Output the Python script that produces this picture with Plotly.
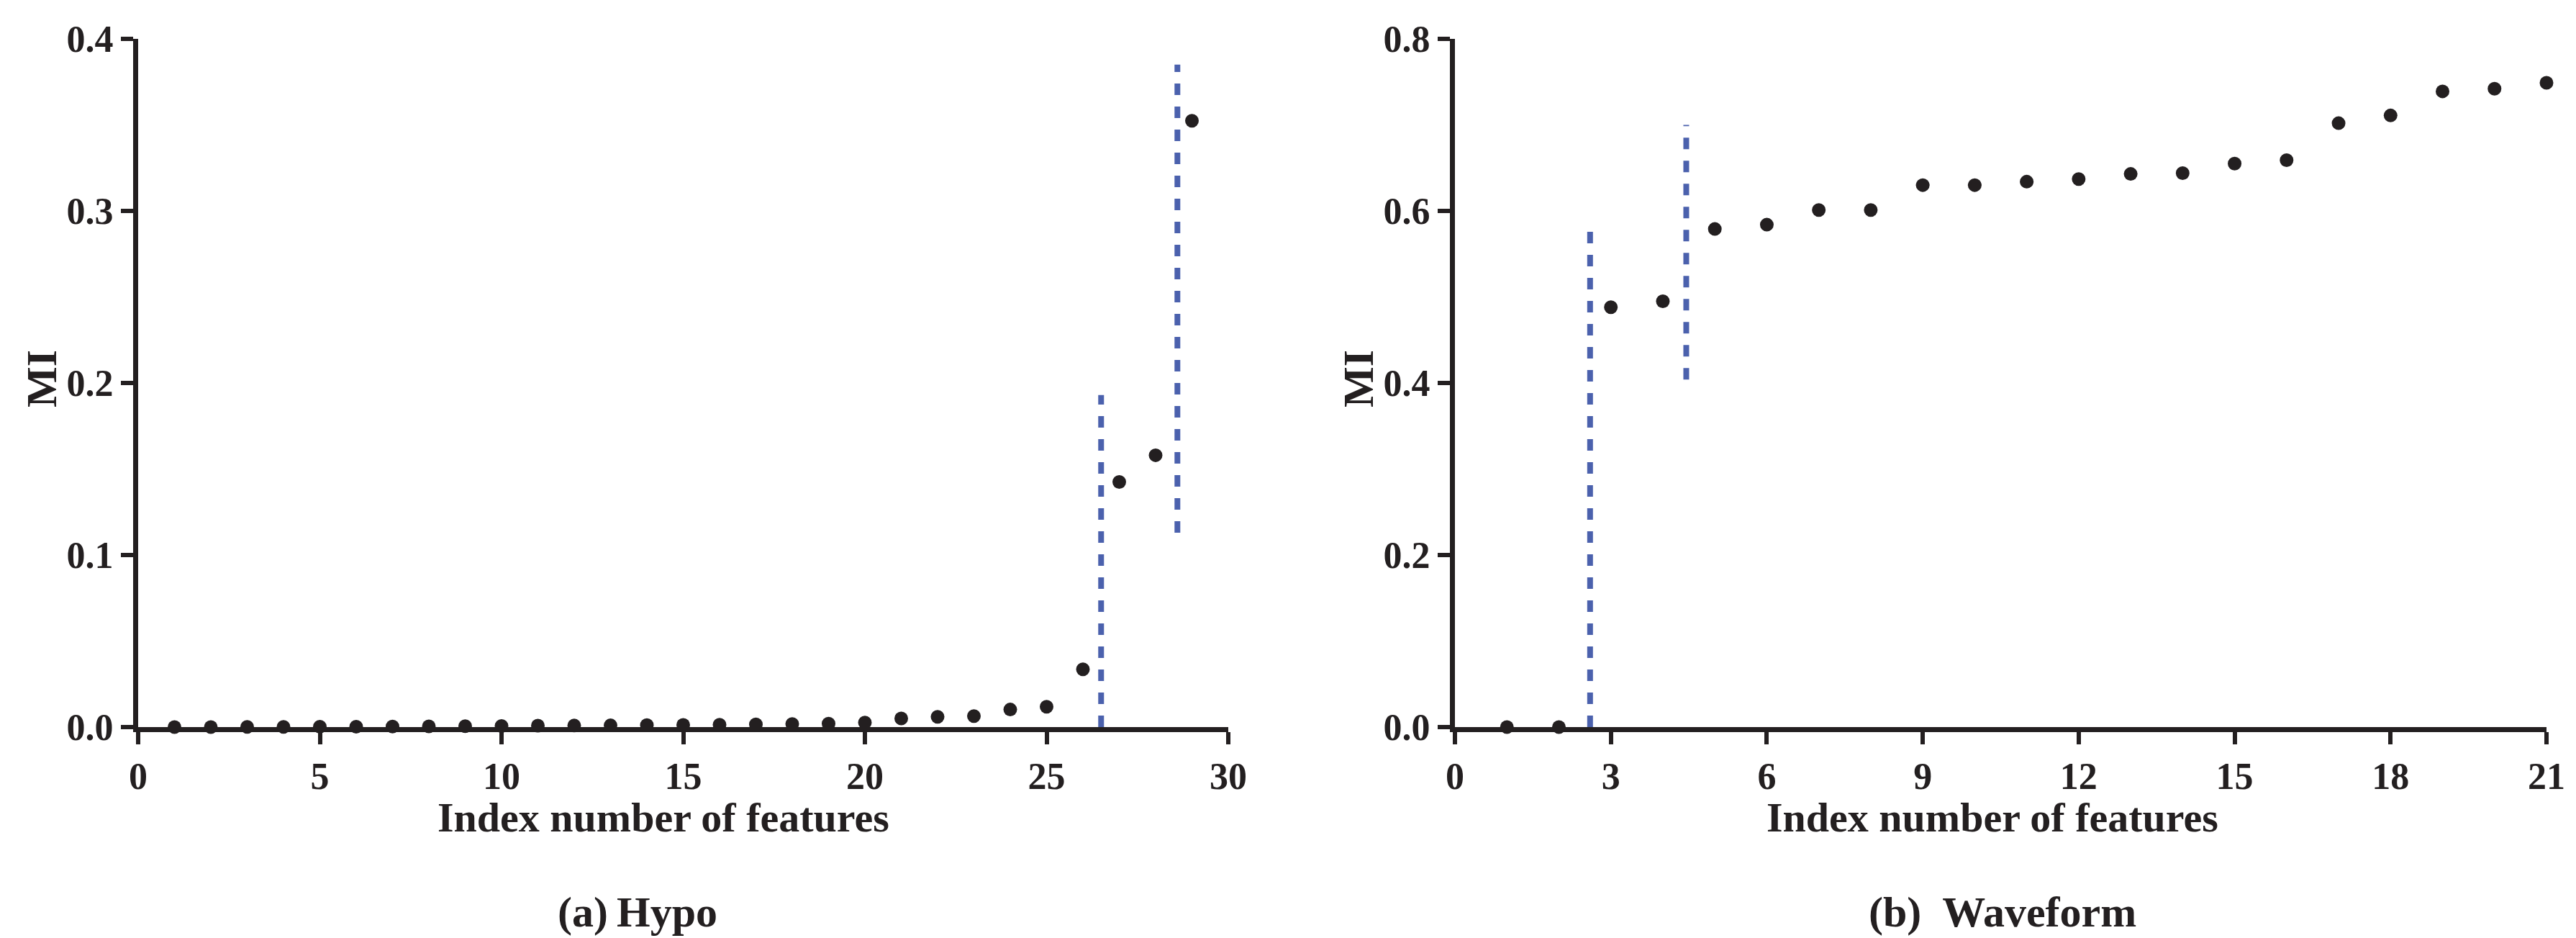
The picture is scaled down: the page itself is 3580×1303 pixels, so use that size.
import plotly.graph_objects as go

# ---------------- data ----------------
hypo_idx = list(range(1, 30))
hypo_mi = [0.0, 0.0, 0.0001, 0.0001, 0.0002, 0.0002, 0.0003, 0.0004, 0.0005, 0.0006,
           0.0008, 0.0009, 0.0010, 0.0012, 0.0013, 0.0014, 0.0016, 0.0018, 0.0020, 0.0026,
           0.0050, 0.0060, 0.0064, 0.0102, 0.0118, 0.0336, 0.1425, 0.1580, 0.3524]

wave_idx = list(range(1, 22))
wave_mi = [0.0, 0.0, 0.488, 0.495, 0.579, 0.584, 0.601, 0.601, 0.630, 0.630,
           0.634, 0.637, 0.643, 0.644, 0.655, 0.659, 0.702, 0.711, 0.739, 0.742, 0.749]

# dashed separator lines: x position, y start, y end
hypo_cuts_x = [26.5, 28.6]
hypo_cuts_y0 = [0.0, 0.113]
hypo_cuts_y1 = [0.193, 0.385]

wave_cuts_x = [2.6, 4.45]
wave_cuts_y0 = [0.0, 0.404]
wave_cuts_y1 = [0.577, 0.700]

hypo_xticks = [0, 5, 10, 15, 20, 25, 30]
hypo_yticks = [0.0, 0.1, 0.2, 0.3, 0.4]
wave_xticks = [0, 3, 6, 9, 12, 15, 18, 21]
wave_yticks = [0.0, 0.2, 0.4, 0.6, 0.8]

ylabel = "MI"
xlabel = "Index number of features"
caption_a = "(a)\u2009Hypo"
caption_b = "(b)\u00a0 Waveform"

# ---------------- style ----------------
INK = "#231f20"
BLUE = "#4b61ad"
FONT = "Liberation Serif"
W, H = 3580, 1303

fig = go.Figure()

# markers
fig.add_trace(go.Scatter(x=hypo_idx, y=hypo_mi, mode="markers",
                         marker=dict(size=19, color=INK, line=dict(width=0)),
                         cliponaxis=False, xaxis="x", yaxis="y", showlegend=False))
fig.add_trace(go.Scatter(x=wave_idx, y=wave_mi, mode="markers",
                         marker=dict(size=19, color=INK, line=dict(width=0)),
                         cliponaxis=False, xaxis="x2", yaxis="y2", showlegend=False))

# dashed lines
for xv, y0, y1 in zip(hypo_cuts_x, hypo_cuts_y0, hypo_cuts_y1):
    fig.add_trace(go.Scatter(x=[xv, xv], y=[y0, y1], mode="lines",
                             line=dict(color=BLUE, width=8, dash="16px,16px"),
                             cliponaxis=False, xaxis="x", yaxis="y", showlegend=False))
for xv, y0, y1 in zip(wave_cuts_x, wave_cuts_y0, wave_cuts_y1):
    fig.add_trace(go.Scatter(x=[xv, xv], y=[y0, y1], mode="lines",
                             line=dict(color=BLUE, width=8, dash="16px,16px"),
                             cliponaxis=False, xaxis="x2", yaxis="y2", showlegend=False))

tickfont = dict(family=FONT, size=52, color=INK, weight="bold")
common = dict(showline=True, linecolor=INK, linewidth=7, ticks="outside",
              ticklen=17, tickwidth=6, tickcolor=INK, showgrid=False,
              zeroline=False, tickfont=tickfont, fixedrange=True,
              automargin=False)

ybot = 1 - 1002 / H
ytop = 1 - 46 / H

fig.update_layout(
    template="none",
    width=W, height=H,
    margin=dict(l=0, r=0, t=0, b=0, pad=0),
    paper_bgcolor="white", plot_bgcolor="white",
    xaxis=dict(domain=[184 / W, 1699 / W], range=[0, 30], tickvals=hypo_xticks,
               anchor="y", **common),
    yaxis=dict(domain=[ybot, ytop], range=[0, 0.4], tickvals=hypo_yticks,
               tickformat=".1f", anchor="x", **common),
    xaxis2=dict(domain=[2014 / W, 3531 / W], range=[0, 21], tickvals=wave_xticks,
                anchor="y2", **common),
    yaxis2=dict(domain=[ybot, ytop], range=[0, 0.8], tickvals=wave_yticks,
                tickformat=".1f", anchor="x2", **common),
)

def ann(text, x, y, size, angle=0):
    fig.add_annotation(text=text, x=x / W, y=1 - y / H, xref="paper", yref="paper",
                       xanchor="center", yanchor="middle", showarrow=False,
                       textangle=angle,
                       font=dict(family=FONT, size=size, color=INK, weight="bold"))

ann(ylabel, 50, 518, 60, -90)
ann(ylabel, 1880, 518, 60, -90)
ann(xlabel, 914, 1127, 58)
ann(xlabel, 2761, 1127, 58)
ann(caption_a, 878, 1259, 60)
ann(caption_b, 2775, 1259, 60)

fig.write_html("out.html")
